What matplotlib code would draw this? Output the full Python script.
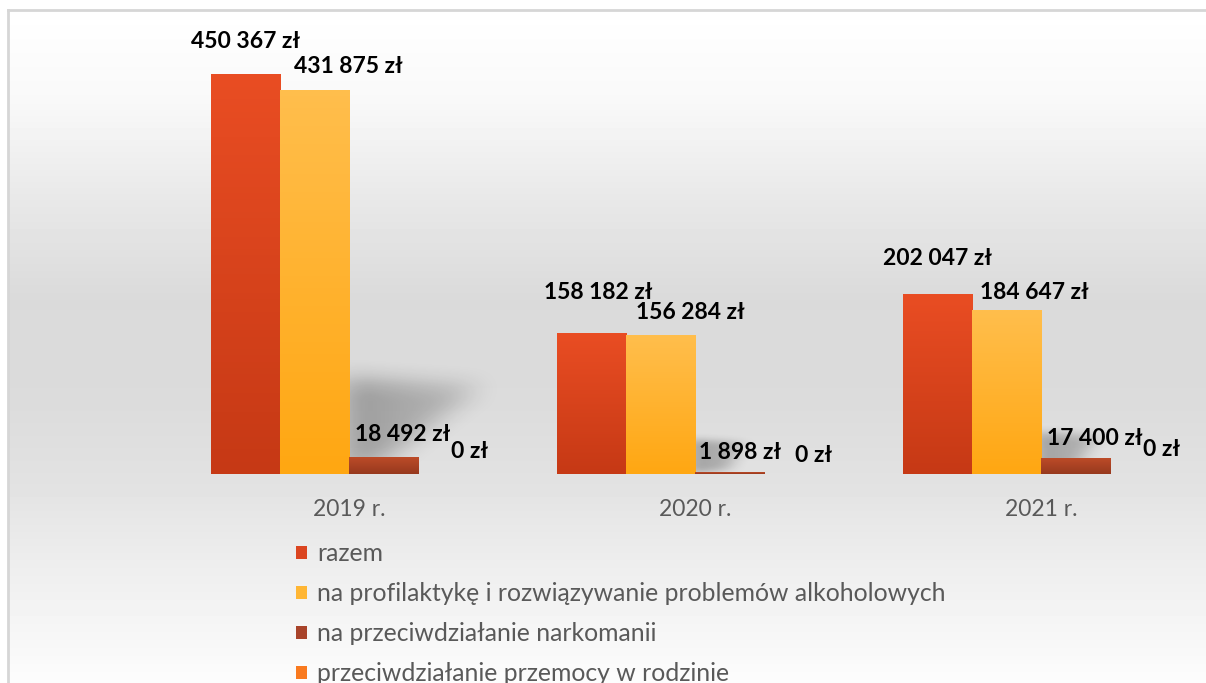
import numpy as np
import matplotlib
matplotlib.use('Agg')
import matplotlib.pyplot as plt
from matplotlib.colors import LinearSegmentedColormap
from matplotlib.patches import Patch
from matplotlib.path import Path

plt.rcParams['font.family'] = ['Lato', 'DejaVu Sans']

# Data
years = ['2019 r.', '2020 r.', '2021 r.']
labels = ['razem',
          'na profilaktykę i rozwiązywanie problemów alkoholowych',
          'na przeciwdziałanie narkomanii',
          'przeciwdziałanie przemocy w rodzinie']
razem = [450367, 158182, 202047]
alkohol = [431875, 156284, 184647]
narkomania = [18492, 1898, 17400]
przemoc = [0, 0, 0]

# Styles (top colour, bottom colour) per series
grads = [('#E94D23', '#C63915'),
         ('#FFBE4C', '#FFA712'),
         ('#BC4B28', '#97391E'),
         ('#FF8A2E', '#F4701A')]
legend_cols = ['#DB4520', '#FFB634', '#A8432A', '#F97A1F']

# label offsets in pixels (dx, dy) from top centre of each bar, per series per year
offsets = [[(0, 32), (7, 41), (0, 36)],
           [(34, 24), (30, 23), (28, 18)],
           [(19, 23), (10, 20), (19, 20)],
           [(17, 23), (15, 18), (17, 25)]]

W, H = 1206, 683
fig = plt.figure(figsize=(W / 100, H / 100), dpi=100)

# Background gradient + frame
bg = fig.add_axes([0, 0, 1, 1], zorder=-10)
bg.set_axis_off()
rows = np.arange(H + 8) - 4
col = np.interp(rows, [10, 100, 200, 300, 400, 480, 560, 683],
                [1.0, 0.975, 0.91, 0.855, 0.86, 0.885, 0.93, 0.99])
img = np.repeat(col[:, None], W + 8, axis=1)
img[:14, :] = 1.0
img[:, :12] = 1.0
bg.imshow(img, cmap='gray', vmin=0, vmax=1, extent=(-4, W + 4, H + 4, -4),
          aspect='auto', interpolation='nearest')
bg.plot([8, 8], [H + 5, 10], color='#d6d6d6', lw=2)
bg.plot([8, W + 5], [10, 10], color='#d6d6d6', lw=2)
bg.set_xlim(0, W)
bg.set_ylim(H, 0)

# Main axes
base_px, top_px = 474, 40
ax = fig.add_axes([176 / W, (H - base_px) / H, 1038 / W, (base_px - top_px) / H])
ax.patch.set_visible(False)
ymax = max(razem) * (base_px - top_px) / 400
for s in ax.spines.values():
    s.set_visible(False)
ax.set_yticks([])


def soft_shadow(ax, pts, extent, alpha=0.22, n=160, blur=25):
    x0, x1, y0, y1 = extent
    gx, gy = np.meshgrid(np.linspace(x0, x1, n), np.linspace(y0, y1, n))
    m = Path(pts).contains_points(np.c_[gx.ravel(), gy.ravel()]).reshape(n, n).astype(float)
    k = np.ones(blur) / blur
    for _ in range(2):
        m = np.apply_along_axis(lambda r: np.convolve(r, k, mode='same'), 0, m)
        m = np.apply_along_axis(lambda r: np.convolve(r, k, mode='same'), 1, m)
    # fade towards the right
    m *= np.linspace(1.0, 0.35, n)[None, :]
    rgba = np.zeros((n, n, 4))
    rgba[..., 3] = m * alpha
    ax.imshow(rgba, extent=(x0, x1, y0, y1), origin='lower', aspect='auto',
              zorder=1, interpolation='bilinear')


# Perspective shadows cast by the alcohol bars
for i, h in enumerate(alkohol):
    dx = 0.9e-6 * h
    pts = [(i - 0.02, 0.0), (i - 0.02, 0.25 * h), (i + dx, 0.23 * h), (i + 0.1, 0.03 * h)]
    soft_shadow(ax, pts, (i - 0.08, i + dx + 0.12, -0.05 * h, 0.33 * h), alpha=0.32)

series = [razem, alkohol, narkomania, przemoc]
width = 0.2
x = np.arange(len(years))
for k, vals in enumerate(series):
    pos = x + (k - 1.5) * width
    bars = ax.bar(pos, vals, width, color=legend_cols[k], zorder=2, linewidth=0)
    cmap = LinearSegmentedColormap.from_list(f'g{k}', [grads[k][1], grads[k][0]])
    grad = np.linspace(0, 1, 64)[:, None]
    for b, v in zip(bars, vals):
        if v > 0:
            ax.imshow(grad, cmap=cmap, origin='lower', aspect='auto', zorder=2.5,
                      extent=(b.get_x(), b.get_x() + b.get_width(), 0, v))
    for j, (p, v) in enumerate(zip(pos, vals)):
        txt = f'{v:,}'.replace(',', ' ') + ' zł'
        dx, dy = offsets[k][j]
        ax.annotate(txt, xy=(p, v), xytext=(dx, dy), textcoords='offset pixels',
                    ha='center', va='center', fontsize=16.5, fontweight='bold',
                    color='black', zorder=4)

ax.set_xlim(-0.5, 2.5)
ax.set_ylim(0, ymax)
ax.set_xticks(x, years)
ax.tick_params(axis='x', length=0, pad=18, labelsize=16.5, colors='#595959')

handles = [Patch(facecolor=c, edgecolor='none') for c in legend_cols]
fig.legend(handles, labels, loc='upper left', bbox_to_anchor=(296 / W, 1 - 542 / H),
           frameon=False, fontsize=17.8, handlelength=0.45, handleheight=0.45,
           handletextpad=0.4, labelspacing=0.69, borderpad=0, borderaxespad=0,
           labelcolor='#595959')

fig.savefig('out.png', dpi=100)
